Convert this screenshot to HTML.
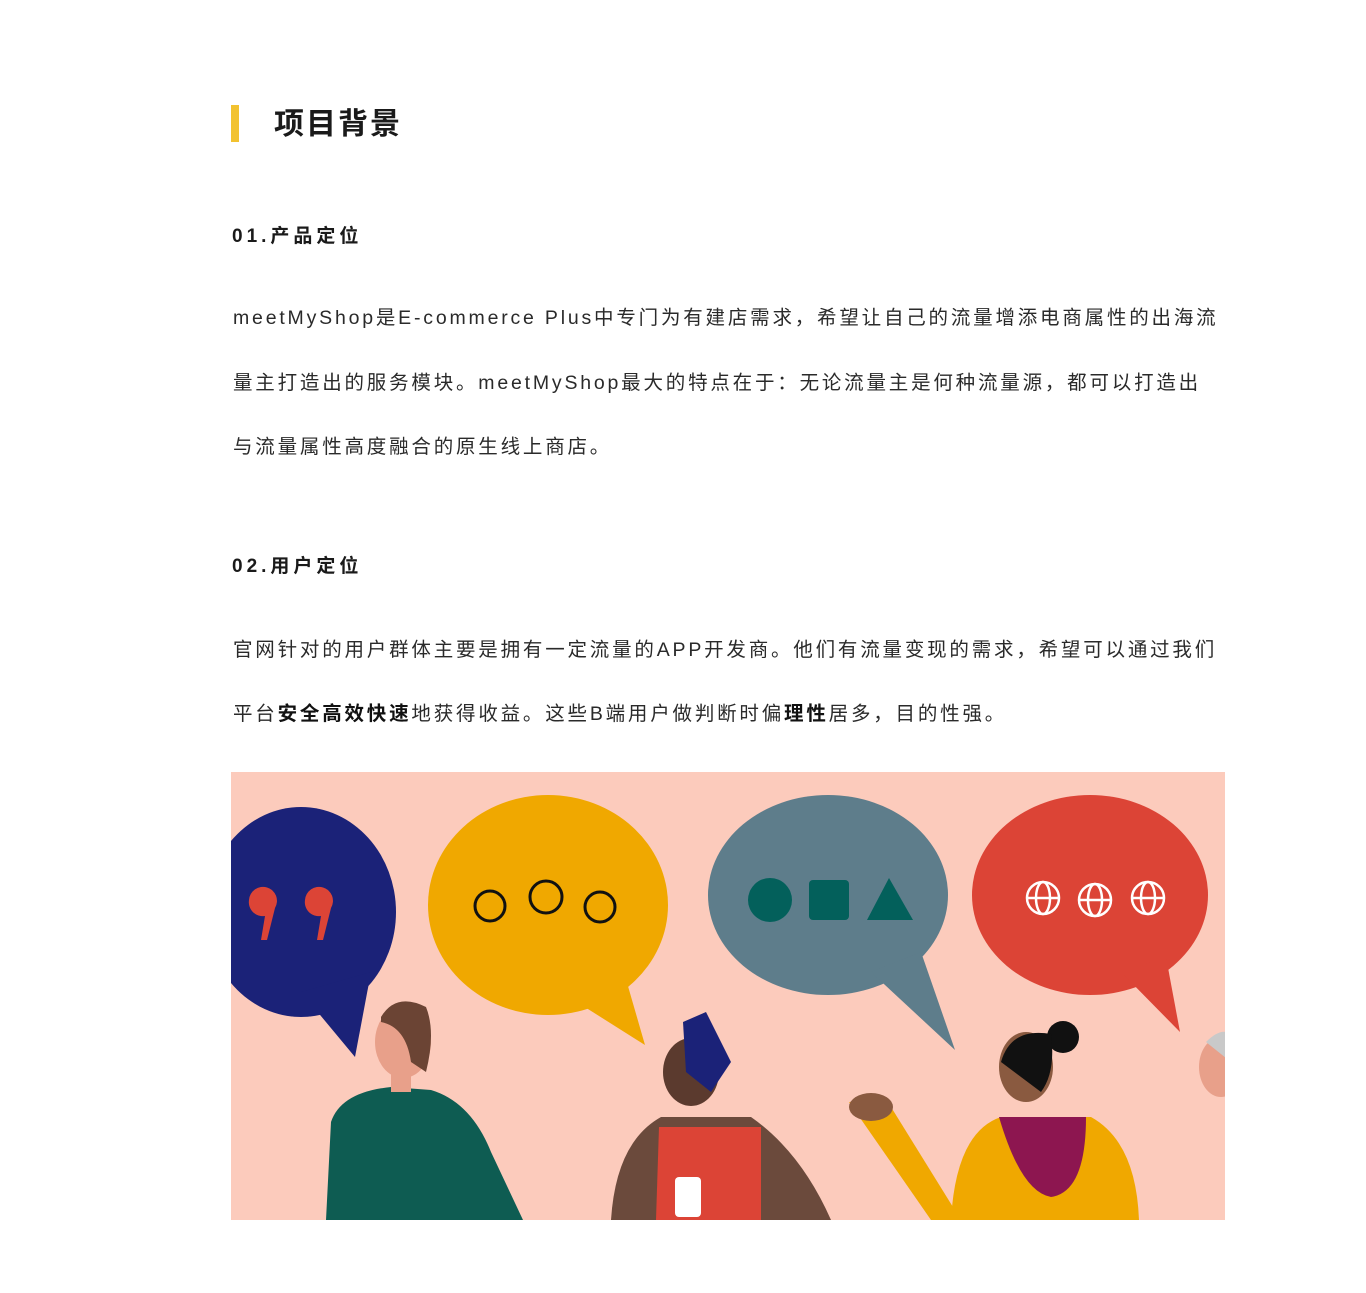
<!DOCTYPE html>
<html><head><meta charset="utf-8">
<style>
html,body{margin:0;padding:0;background:#fff;}
body{width:1366px;height:1293px;position:relative;overflow:hidden;font-family:"Liberation Sans","Noto Sans CJK SC",sans-serif;color:#222;}
.bar{position:absolute;left:231px;top:105px;width:8px;height:37px;background:#f2c230;}
.title{position:absolute;left:274px;top:106px;font-size:30px;font-weight:bold;letter-spacing:2px;line-height:38px;color:#1a1a1a;}
.sub{position:absolute;left:232px;font-size:19px;font-weight:bold;letter-spacing:4px;line-height:24px;color:#1a1a1a;}
.p{position:absolute;left:233px;font-size:19.5px;letter-spacing:2.8px;line-height:28px;white-space:nowrap;color:#2a2a2a;}
.p b{font-weight:bold;color:#111;}
svg{position:absolute;left:231px;top:772px;}
</style></head>
<body>
<div class="bar"></div>
<div class="title">项目背景</div>
<div class="sub" style="top:225px">01.产品定位</div>
<div class="p" style="top:304px">meetMyShop是E-commerce Plus中专门为有建店需求，希望让自己的流量增添电商属性的出海流</div>
<div class="p" style="top:369px">量主打造出的服务模块。meetMyShop最大的特点在于：无论流量主是何种流量源，都可以打造出</div>
<div class="p" style="top:433px">与流量属性高度融合的原生线上商店。</div>
<div class="sub" style="top:555px">02.用户定位</div>
<div class="p" style="top:636px">官网针对的用户群体主要是拥有一定流量的APP开发商。他们有流量变现的需求，希望可以通过我们</div>
<div class="p" style="top:700px">平台<b>安全高效快速</b>地获得收益。这些B端用户做判断时偏<b>理性</b>居多，目的性强。</div>

<svg width="994" height="448" viewBox="0 0 994 448">
<rect width="994" height="448" fill="#fccbbc"/>
<g>
<ellipse cx="70" cy="140" rx="95" ry="105" fill="#1b2278"/>
<path d="M70 220 L124 285 L140 200 Z" fill="#1b2278"/>
<path d="M18 128 a14 14 0 1 1 26 8 l-8 32 l-6 0 l4 -24 a14 14 0 0 1 -16 -16z" fill="#dc4436"/>
<path d="M74 128 a14 14 0 1 1 26 8 l-8 32 l-6 0 l4 -24 a14 14 0 0 1 -16 -16z" fill="#dc4436"/>
</g>
<g>
<ellipse cx="317" cy="133" rx="120" ry="110" fill="#f0a800"/>
<path d="M330 220 L414 273 L390 190 Z" fill="#f0a800"/>
<circle cx="259" cy="134" r="15" fill="none" stroke="#111" stroke-width="3"/>
<circle cx="315" cy="125" r="16" fill="none" stroke="#111" stroke-width="3"/>
<circle cx="369" cy="135" r="15" fill="none" stroke="#111" stroke-width="3"/>
</g>
<g>
<ellipse cx="597" cy="123" rx="120" ry="100" fill="#5e7d8b"/>
<path d="M640 200 L724 278 L690 180 Z" fill="#5e7d8b"/>
<circle cx="539" cy="128" r="22" fill="#03605b"/>
<rect x="578" y="108" width="40" height="40" rx="4" fill="#03605b"/>
<path d="M636 148 L658 106 L682 148 Z" fill="#03605b"/>
</g>
<g>
<ellipse cx="859" cy="123" rx="118" ry="100" fill="#dc4436"/>
<path d="M890 200 L949 260 L935 185 Z" fill="#dc4436"/>
<g fill="none" stroke="#fff" stroke-width="2.5">
<circle cx="812" cy="126" r="16"/><ellipse cx="812" cy="126" rx="7" ry="16"/><line x1="796" y1="126" x2="828" y2="126"/>
<circle cx="864" cy="128" r="16"/><ellipse cx="864" cy="128" rx="7" ry="16"/><line x1="848" y1="128" x2="880" y2="128"/>
<circle cx="917" cy="126" r="16"/><ellipse cx="917" cy="126" rx="7" ry="16"/><line x1="901" y1="126" x2="933" y2="126"/>
</g>
</g>
<g>
<path d="M95 448 L100 350 Q110 320 160 315 L200 318 Q240 330 260 380 L292 448 Z" fill="#0e5c52"/>
<rect x="160" y="290" width="20" height="30" fill="#e8a08a"/>
<ellipse cx="172" cy="270" rx="28" ry="36" fill="#e8a08a"/>
<path d="M150 245 Q165 220 195 235 Q205 260 195 300 L180 290 Q175 255 150 250Z" fill="#6b4434"/>
</g>
<g>
<path d="M380 448 Q385 370 430 345 L520 345 Q570 380 600 448 Z" fill="#6b4a3c"/>
<path d="M425 448 L428 355 L530 355 L530 448 Z" fill="#dc4436"/>
<ellipse cx="460" cy="300" rx="28" ry="34" fill="#5b3a2e"/>
<path d="M452 250 L475 240 L500 290 L480 320 L455 300 Z" fill="#1b2278"/>
<rect x="444" y="405" width="26" height="40" rx="4" fill="#fff"/>
</g>
<g>
<path d="M618 330 L700 448 L730 448 L660 335 Z" fill="#f0a800"/>
<ellipse cx="640" cy="335" rx="22" ry="14" fill="#8a5a40"/>
<path d="M720 448 Q725 360 770 345 L860 345 Q905 370 908 448 Z" fill="#f0a800"/>
<path d="M768 345 Q790 420 820 425 Q855 420 855 345 Z" fill="#8d1650"/>
<ellipse cx="795" cy="295" rx="27" ry="35" fill="#8a5a40"/>
<circle cx="832" cy="265" r="16" fill="#111"/>
<path d="M770 290 Q780 255 820 262 Q825 300 810 320 Z" fill="#111"/>
</g>
<ellipse cx="990" cy="295" rx="22" ry="30" fill="#e8a08a"/>
<path d="M975 270 Q990 255 1000 262 L1000 290 Z" fill="#c9c9c9"/>
</svg>
</body></html>
